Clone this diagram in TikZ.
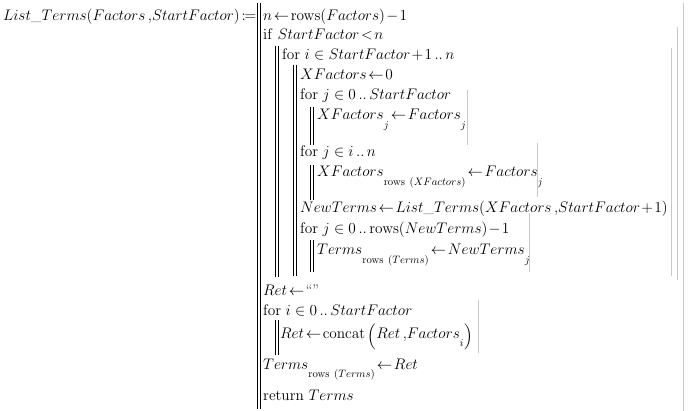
\RequirePackage{fix-cm}
\documentclass[tikz,border=0pt]{standalone}
\usepackage{amsmath}
\usepackage{mathtools}
\usepackage{xcolor}

% Mathcad style subscript, set low under the name
\newcommand{\msub}[1]{_{\raisebox{-6pt}{$\scriptstyle #1$}}}
% Range membership with a little more room
\newcommand{\isin}{\mathrel{\mskip3mu\in\mskip3mu}}
% Tight Mathcad spacing
\thickmuskip=2mu
\medmuskip=1.5mu

\begin{document}
\begin{tikzpicture}[x=1pt,y=-1pt,
    line/.style={anchor=base west, inner sep=0pt, font=\fontsize{15.3}{18}\selectfont},
    body/.style={line width=0.8pt},
    close/.style={draw=barGray, line width=0.8pt}]
    % Colors
    \definecolor{barGray}{RGB}{200, 200, 200}
    \useasboundingbox (0,0) rectangle (690,411);

    % Definition
    \node[line] (def) at (3,21) {$List\_Terms(Factors\,{,}StartFactor)\coloneqq$};

    % Statements
    \node[line] (r1) at (263,21) {$n\leftarrow\mathrm{rows}(Factors)-1$};
    \node[line] (r2) at (263,40) {$\mathrm{if}\ StartFactor<n$};
    \node[line] (r3) at (282,60) {$\mathrm{for}\ i\isin StartFactor+1\,{..}\,n$};
    \node[line] (r4) at (300,80) {$XFactors\leftarrow0$};
    \node[line] (r5) at (300,100) {$\mathrm{for}\ j\isin0\,{..}\,StartFactor$};
    \node[line] (r6) at (317,120) {$XFactors\msub{j}\leftarrow Factors\msub{j}$};
    \node[line] (r7) at (300,157) {$\mathrm{for}\ j\isin i\,{..}\,n$};
    \node[line] (r8) at (317,177) {$XFactors\msub{\mathrm{rows}\ (XFactors)}\leftarrow Factors\msub{j}$};
    \node[line] (r9) at (300,213) {$NewTerms\leftarrow List\_Terms(XFactors\,{,}StartFactor+1)$};
    \node[line] (r10) at (300,234) {$\mathrm{for}\ j\isin0\,{..}\,\mathrm{rows}(NewTerms)-1$};
    \node[line] (r11) at (317,255) {$Terms\msub{\mathrm{rows}\ (Terms)}\leftarrow NewTerms\msub{j}$};
    \node[line] (r12) at (263,295) {$Ret\leftarrow\text{``''}$};
    \node[line] (r13) at (263,316) {$\mathrm{for}\ i\isin0\,{..}\,StartFactor$};
    \node[line] (r14) at (280,338) {$Ret\leftarrow\mathrm{concat}\,\mathopen{\raisebox{-3pt}{$\Big($}}Ret\,{,}Factors\msub{i}\mathclose{\raisebox{-3pt}{$\Big)$}}$};
    \node[line] (r15) at (263,369) {$Terms\msub{\mathrm{rows}\ (Terms)}\leftarrow Ret$};
    \node[line] (r16) at (263,400) {$\mathrm{return}\ Terms$};

    % Body bars (double)
    \draw[body] (257,3) -- (257,409) (260,3) -- (260,409);
    \draw[body] (275,46) -- (275,277) (278,46) -- (278,277);
    \draw[body] (293,65) -- (293,276) (296,65) -- (296,276);
    \draw[body] (310,107) -- (310,145) (313,107) -- (313,145);
    \draw[body] (310,165) -- (310,200) (313,165) -- (313,200);
    \draw[body] (310,240) -- (310,272) (313,240) -- (313,272);
    \draw[body] (275,320) -- (275,355) (278,320) -- (278,355);

    % Closing bars
    \draw[close] (683,3) -- (683,411);
    \draw[close] (677,27) -- (677,280);
    \draw[close] (671,48) -- (671,276);
    \draw[close] (467,90) -- (467,145);
    \draw[close] (537,143) -- (537,197);
    \draw[close] (529,213) -- (529,272);
    \draw[close] (478,300) -- (478,353);
\end{tikzpicture}
\end{document}
